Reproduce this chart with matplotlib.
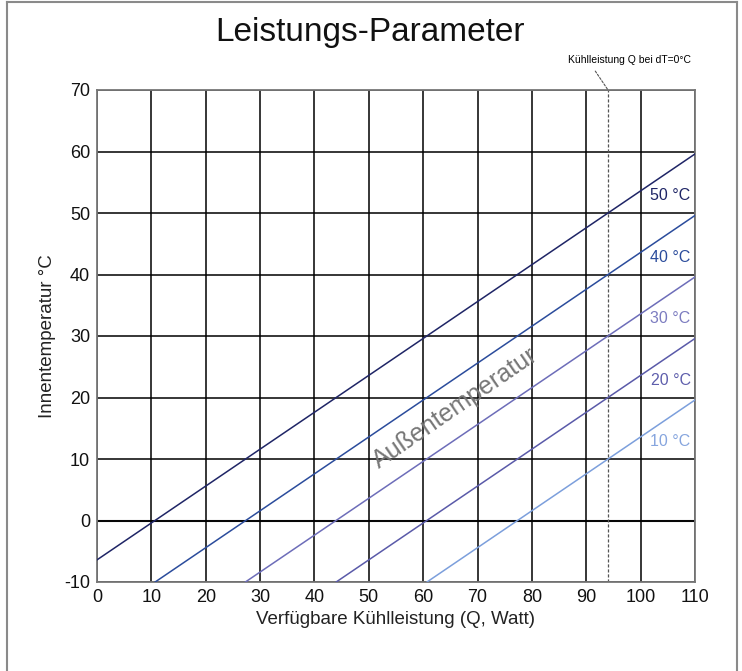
import matplotlib.pyplot as plt
from matplotlib.lines import Line2D

plt.rcParams['font.family'] = ['Liberation Sans', 'DejaVu Sans']
plt.rcParams['axes.unicode_minus'] = False

# Außentemperatur-Kurven: sichtbare Anfangs- und Endpunkte (aus dem Bild gelesen)
aussen_temp = [50, 40, 30, 20, 10]
q_start = [0, 10.7, 27.3, 44.0, 60.7]
t_start = [-6.4, -10, -10, -10, -10]
q_end = [110, 110, 110, 110, 110]
t_end = [59.6, 49.6, 39.6, 29.6, 19.6]
linien_farben = ['#1f2566', '#2b4c9c', '#6d6db9', '#5a5aa9', '#7c9fdc']
label_farben = ['#1f2566', '#2b4c9c', '#7c7cc0', '#5e5eac', '#86a5de']

q_dt0 = 94  # Kühlleistung Q bei dT=0°C

x_ticks = list(range(0, 111, 10))
y_ticks = list(range(-10, 71, 10))

fig = plt.figure(figsize=(7.42, 6.71), dpi=100)
ax = fig.add_axes([97 / 742, 1 - 582 / 671, 598 / 742, 492 / 671])

# Rahmen um die Grafik (unten offen)
rahmen = '#8a8a8a'
fig.add_artist(Line2D([7 / 742, 7 / 742], [0, 1 - 2 / 671], color=rahmen, lw=1.5))
fig.add_artist(Line2D([7 / 742, 737 / 742], [1 - 2 / 671, 1 - 2 / 671], color=rahmen, lw=1.5))
fig.add_artist(Line2D([737 / 742, 737 / 742], [0, 1 - 2 / 671], color=rahmen, lw=1.5))

ax.set_xlim(0, 110)
ax.set_ylim(-10, 70)
ax.set_xticks(x_ticks)
ax.set_yticks(y_ticks)
ax.tick_params(length=0, labelsize=13, pad=5, colors='#111111')
ax.grid(True, color='black', lw=1.1)
ax.axhline(0, color='#222222', lw=1.5, zorder=1)
for s in ax.spines.values():
    s.set_color('#777777')
    s.set_linewidth(1.3)

for i in range(len(aussen_temp)):
    ax.plot([q_start[i], q_end[i]], [t_start[i], t_end[i]], color=linien_farben[i], lw=1.1, zorder=3)
    ax.text(109.2, aussen_temp[i] + 2.8, f'{aussen_temp[i]} °C', color=label_farben[i],
            fontsize=11.5, ha='right', va='center', zorder=4)

ax.axvline(q_dt0, color='#555555', lw=0.9, ls=(0, (2.5, 1.5)), zorder=2)
ax.annotate('Kühlleistung Q bei dT=0°C', xy=(q_dt0, 70), xytext=(97.9, 74.9),
            fontsize=7.5, ha='center', va='center', annotation_clip=False,
            arrowprops=dict(arrowstyle='-', color='#555555', lw=0.8, ls=(0, (2, 1.5)),
                            shrinkA=3, shrinkB=0,
                            relpos=(0.19, 0)))

ax.text(66, 18.3, 'Außentemperatur', color='#777777', fontsize=18, rotation=34.5,
        ha='center', va='center', rotation_mode='anchor', zorder=4)

ax.set_xlabel('Verfügbare Kühlleistung (Q, Watt)', fontsize=13.5, color='#222222', labelpad=4)
ax.set_ylabel('Innentemperatur °C', fontsize=13.5, color='#222222', labelpad=6)
fig.text(370 / 742, 1 - 33 / 671, 'Leistungs-Parameter', fontsize=24, ha='center', va='center',
         color='#111111')

fig.savefig('out.png', dpi=100)
